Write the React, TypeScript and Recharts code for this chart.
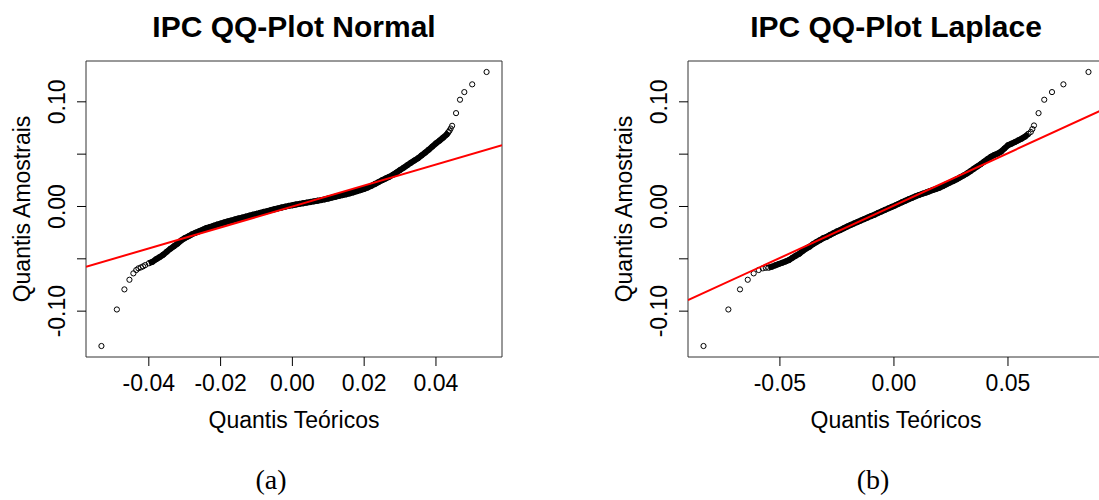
import React from "react";
import { ScatterChart, Scatter, XAxis, YAxis, ReferenceArea } from "recharts";

// values: [theoretical quantile, sample quantile]
const normalBand: [number, number][] = [
  [-0.040, -0.0543], [-0.039, -0.0529], [-0.038, -0.0505], [-0.037, -0.0484], [-0.036, -0.0461],
  [-0.035, -0.0432], [-0.034, -0.0404], [-0.033, -0.038], [-0.032, -0.0355], [-0.031, -0.0325],
  [-0.030, -0.0303], [-0.029, -0.0285], [-0.028, -0.0266], [-0.027, -0.0251], [-0.026, -0.0237],
  [-0.025, -0.0222], [-0.024, -0.0207], [-0.023, -0.0196], [-0.022, -0.0185], [-0.021, -0.0173],
  [-0.020, -0.0163], [-0.019, -0.0153], [-0.018, -0.0143], [-0.017, -0.0134], [-0.016, -0.0124],
  [-0.015, -0.0115], [-0.014, -0.0106], [-0.013, -0.0097], [-0.012, -0.0088], [-0.011, -0.0079],
  [-0.010, -0.007], [-0.009, -0.0061], [-0.008, -0.0052], [-0.007, -0.0044], [-0.006, -0.0035],
  [-0.005, -0.0026], [-0.004, -0.0018], [-0.003, -0.001], [-0.002, -0.0002], [-0.001, 0.0006],
  [0.000, 0.0012], [0.001, 0.0019], [0.002, 0.0025], [0.003, 0.0031], [0.004, 0.0037],
  [0.005, 0.0043], [0.006, 0.0049], [0.007, 0.0055], [0.008, 0.0061], [0.009, 0.0068],
  [0.010, 0.0076], [0.011, 0.0085], [0.012, 0.0093], [0.013, 0.0101], [0.014, 0.0109],
  [0.015, 0.0117], [0.016, 0.0126], [0.017, 0.0136], [0.018, 0.0146], [0.019, 0.0157],
  [0.020, 0.0168], [0.021, 0.0181], [0.022, 0.0197], [0.023, 0.0215], [0.024, 0.0233],
  [0.025, 0.0251], [0.026, 0.0268], [0.027, 0.0284], [0.028, 0.0303], [0.029, 0.0325],
  [0.030, 0.0348], [0.031, 0.0371], [0.032, 0.0394], [0.033, 0.0417], [0.034, 0.044],
  [0.035, 0.0461], [0.036, 0.0488], [0.037, 0.0515], [0.038, 0.0543], [0.039, 0.0573],
  [0.040, 0.0603], [0.041, 0.0629], [0.042, 0.0658], [0.043, 0.0688], [0.0435, 0.0712],
];
const normalTails: [number, number][] = [
  [-0.0532, -0.1333], [-0.0489, -0.0984], [-0.0468, -0.0792], [-0.0454, -0.07], [-0.0443, -0.0639],
  [-0.0435, -0.0607], [-0.0429, -0.0591], [-0.0422, -0.0582], [-0.0416, -0.0572], [-0.041, -0.056],
  [0.0438, 0.0725], [0.0441, 0.0745], [0.0445, 0.0771], [0.0456, 0.0892], [0.0467, 0.102],
  [0.0479, 0.1093], [0.0501, 0.1167], [0.0541, 0.1285],
];
const normalFit: [number, number][] = [[-0.0575, -0.0576], [0.0584, 0.0585]];
const normalXTicks = [-0.04, -0.02, 0, 0.02, 0.04];
const normalXDomain: [number, number] = [-0.0575, 0.0584];

const laplaceBand: [number, number][] = [
  [-0.055, -0.0585], [-0.0535, -0.0575], [-0.052, -0.0562], [-0.0505, -0.055], [-0.049, -0.0538],
  [-0.0475, -0.0525], [-0.046, -0.0511], [-0.0445, -0.049], [-0.043, -0.047], [-0.0415, -0.0452],
  [-0.04, -0.0425], [-0.0385, -0.0402], [-0.037, -0.0384], [-0.0355, -0.036], [-0.034, -0.034],
  [-0.0325, -0.0322], [-0.031, -0.0302], [-0.0295, -0.029], [-0.028, -0.0272], [-0.0265, -0.0255],
  [-0.025, -0.0238], [-0.0235, -0.0224], [-0.022, -0.0208], [-0.0205, -0.0192], [-0.019, -0.0177],
  [-0.0175, -0.0162], [-0.016, -0.0148], [-0.0145, -0.0134], [-0.013, -0.012], [-0.0115, -0.0106],
  [-0.01, -0.0092], [-0.0085, -0.0078], [-0.007, -0.0062], [-0.0055, -0.0048], [-0.004, -0.0033],
  [-0.0025, -0.0018], [-0.001, -0.0004], [0.0005, 0.001], [0.002, 0.0025], [0.0035, 0.004],
  [0.005, 0.0055], [0.0065, 0.007], [0.008, 0.0083], [0.0095, 0.0097], [0.011, 0.011],
  [0.0125, 0.0122], [0.014, 0.0133], [0.0155, 0.0145], [0.017, 0.0157], [0.0185, 0.0168],
  [0.02, 0.018], [0.0215, 0.0195], [0.023, 0.0212], [0.0245, 0.0228], [0.026, 0.0244],
  [0.0275, 0.026], [0.029, 0.0278], [0.0305, 0.0296], [0.032, 0.0315], [0.0335, 0.0337],
  [0.035, 0.036], [0.0365, 0.0382], [0.038, 0.0404], [0.0395, 0.0428], [0.041, 0.0452],
  [0.0425, 0.0475], [0.044, 0.0492], [0.0455, 0.0505], [0.047, 0.0525], [0.0485, 0.0555],
  [0.05, 0.0585], [0.0515, 0.06], [0.053, 0.0615], [0.0545, 0.0632], [0.056, 0.0648],
  [0.0575, 0.0668], [0.059, 0.0695],
];
const laplaceTails: [number, number][] = [
  [-0.0835, -0.1333], [-0.0726, -0.0984], [-0.0675, -0.0792], [-0.0641, -0.07], [-0.0615, -0.0639],
  [-0.0593, -0.0607], [-0.0575, -0.0591], [-0.0562, -0.0586],
  [0.06, 0.0712], [0.0607, 0.074], [0.0614, 0.0774], [0.0634, 0.0892], [0.0659, 0.102],
  [0.0693, 0.1093], [0.0743, 0.1167], [0.0853, 0.1285],
];
const laplaceFit: [number, number][] = [[-0.0903, -0.0895], [0.0921, 0.0931]];
const laplaceXTicks = [-0.05, 0, 0.05];
const laplaceXDomain: [number, number] = [-0.0903, 0.0921];

const yTicks = [-0.1, -0.05, 0, 0.05, 0.1];
const yLabelled = [-0.1, 0, 0.1];
const yDomain: [number, number] = [-0.1438, 0.139];

const SANS = "'Liberation Sans', Arial, sans-serif";
const toPts = (arr: [number, number][]) => arr.map(([x, y]) => ({ x, y }));

const ring = (props: any) => (
  <circle cx={props.cx} cy={props.cy} r={2.6} fill="none" stroke="#000" strokeWidth={1} />
);
const noDot = () => <g />;

const XTick = (props: any) => {
  const { x, y, payload } = props;
  return (
    <text x={x} y={y + 23} textAnchor="middle" fontSize={23} fontFamily={SANS} fill="#000">
      {payload.value.toFixed(2)}
    </text>
  );
};

const YTick = (props: any) => {
  const { x, y, payload } = props;
  if (!yLabelled.some((v) => Math.abs(v - payload.value) < 1e-9)) return <g />;
  const bx = x - 10;
  return (
    <text
      x={bx}
      y={y}
      transform={`rotate(-90 ${bx} ${y})`}
      textAnchor="middle"
      fontSize={23}
      fontFamily={SANS}
      fill="#000"
    >
      {payload.value.toFixed(2)}
    </text>
  );
};

interface PanelProps {
  left: number;
  title: string;
  caption: string;
  band: [number, number][];
  tails: [number, number][];
  fit: [number, number][];
  xTicks: number[];
  xDomain: [number, number];
}

function QQPanel({ left, title, caption, band, tails, fit, xTicks, xDomain }: PanelProps) {
  return (
    <div style={{ position: "absolute", left, top: 0, width: 560, height: 500 }}>
      <ScatterChart width={560} height={500} margin={{ top: 61, right: 58, bottom: 103, left: 46 }}>
        <XAxis
          type="number"
          dataKey="x"
          domain={xDomain}
          ticks={xTicks}
          allowDataOverflow
          axisLine={false}
          tickLine={{ stroke: "#000" }}
          tickSize={9}
          tickMargin={2}
          tick={<XTick />}
          height={40}
        />
        <YAxis
          type="number"
          dataKey="y"
          domain={yDomain}
          ticks={yTicks}
          allowDataOverflow
          axisLine={false}
          tickLine={{ stroke: "#000" }}
          tickSize={9}
          tickMargin={2}
          tick={<YTick />}
          width={40}
        />
        <ReferenceArea
          x1={xDomain[0]}
          x2={xDomain[1]}
          y1={yDomain[0]}
          y2={yDomain[1]}
          fill="none"
          stroke="#333"
          strokeWidth={1}
          ifOverflow="visible"
        />
        <Scatter data={toPts(tails)} shape={ring} isAnimationActive={false} />
        <Scatter
          data={toPts(band)}
          shape={ring}
          line={{ stroke: "#000", strokeWidth: 6 }}
          lineType="joint"
          isAnimationActive={false}
        />
        <Scatter
          data={toPts(fit)}
          shape={noDot}
          line={{ stroke: "#ff0000", strokeWidth: 2 }}
          lineType="joint"
          isAnimationActive={false}
        />
      </ScatterChart>
      <svg
        width={560}
        height={500}
        style={{ position: "absolute", left: 0, top: 0, pointerEvents: "none", overflow: "visible" }}
      >
        <text x={294} y={37} textAnchor="middle" fontSize={30} fontWeight="bold" fontFamily={SANS} fill="#000">
          {title}
        </text>
        <text
          x={30}
          y={209}
          transform="rotate(-90 30 209)"
          textAnchor="middle"
          fontSize={23}
          fontFamily={SANS}
          fill="#000"
        >
          Quantis Amostrais
        </text>
        <text x={294} y={428} textAnchor="middle" fontSize={23} fontFamily={SANS} fill="#000">
          Quantis Teóricos
        </text>
        <text
          x={271}
          y={489}
          textAnchor="middle"
          fontSize={28}
          fontFamily="'Liberation Serif', 'Times New Roman', serif"
          fill="#000"
        >
          {caption}
        </text>
      </svg>
    </div>
  );
}

export default function App() {
  return (
    <div
      style={{
        position: "fixed",
        left: 0,
        top: 0,
        width: 1099,
        height: 500,
        overflow: "hidden",
        background: "#fff",
      }}
    >
      <QQPanel
        left={0}
        title="IPC QQ-Plot Normal"
        caption="(a)"
        band={normalBand}
        tails={normalTails}
        fit={normalFit}
        xTicks={normalXTicks}
        xDomain={normalXDomain}
      />
      <QQPanel
        left={602}
        title="IPC QQ-Plot Laplace"
        caption="(b)"
        band={laplaceBand}
        tails={laplaceTails}
        fit={laplaceFit}
        xTicks={laplaceXTicks}
        xDomain={laplaceXDomain}
      />
    </div>
  );
}
